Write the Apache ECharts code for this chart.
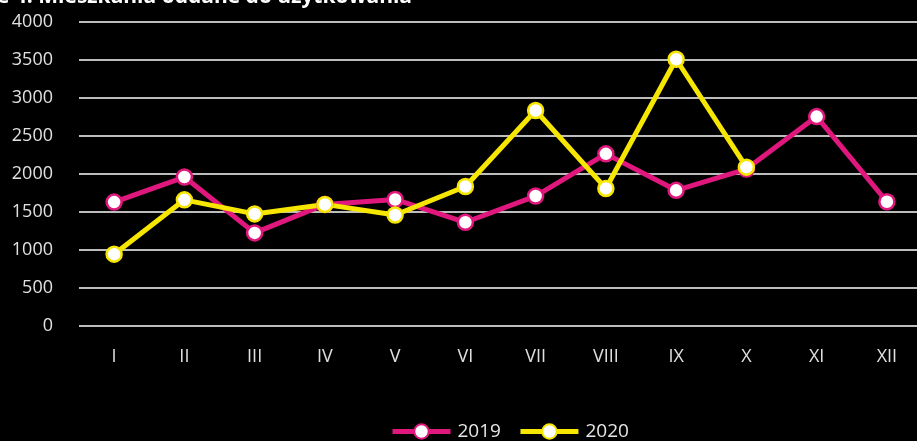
<!DOCTYPE html>
<html>
<head>
<meta charset="utf-8">
<script src="https://cdn.jsdelivr.net/npm/echarts@6/dist/echarts.min.js"></script>
<style>
html,body{margin:0;padding:0;background:#000;}
#c{width:917px;height:441px;}
</style>
</head>
<body>
<div id="c"></div>
<script>
const categories = ['I','II','III','IV','V','VI','VII','VIII','IX','X','XI','XII'];
const values2019 = [1630, 1960, 1225, 1600, 1665, 1365, 1710, 2265, 1785, 2065, 2755, 1635];
const values2020 = [945, 1660, 1475, 1600, 1460, 1835, 2835, 1810, 3510, 2090, null, null];
const seriesNames = ['2019', '2020'];
const titleText = 'e 4. Mieszkania oddane do użytkowania';

const pink = '#e0177c';
const yellow = '#f7e600';
const font = 'Open Sans';

const chart = echarts.init(document.getElementById('c'));
function mkSeries(name, data, color) {
  return {
    name: name,
    type: 'line',
    data: data,
    symbol: 'circle',
    symbolSize: 15,
    showAllSymbol: true,
    lineStyle: {color: color, width: 5},
    itemStyle: {color: '#fff', borderColor: color, borderWidth: 2.5},
    emphasis: {disabled: true},
    z: 3
  };
}
chart.setOption({
  backgroundColor: '#000',
  animation: false,
  graphic: [{
    type: 'text',
    left: -3,
    top: -13,
    style: {text: titleText, fill: '#fff', font: 'bold 21px "Open Sans"'}
  }],
  grid: {left: 79, right: -5, top: 22, bottom: 115, outerBoundsMode: 'none'},
  legend: {
    top: 422,
    left: 390,
    padding: 0,
    itemWidth: 58,
    itemHeight: 18,
    itemGap: 17,
    lineStyle: {width: 5},
    textStyle: {color: '#e6e6e6', fontFamily: font, fontSize: 19, padding: [0, 0, 0, 2]},
    data: seriesNames
  },
  xAxis: {
    type: 'category',
    data: categories,
    boundaryGap: true,
    axisLine: {show: false},
    axisTick: {show: false},
    axisLabel: {color: '#e0e0e0', fontFamily: font, fontSize: 18, margin: 22}
  },
  yAxis: {
    type: 'value',
    min: 0,
    max: 4000,
    interval: 500,
    axisLine: {show: false},
    axisTick: {show: false},
    axisLabel: {color: '#e0e0e0', fontFamily: font, fontSize: 18, margin: 26,
      formatter: function (v) { return String(v); }},
    splitLine: {lineStyle: {color: '#bdbdbd', width: 2}}
  },
  series: [
    mkSeries(seriesNames[0], values2019, pink),
    mkSeries(seriesNames[1], values2020, yellow)
  ]
});
</script>
</body>
</html>
